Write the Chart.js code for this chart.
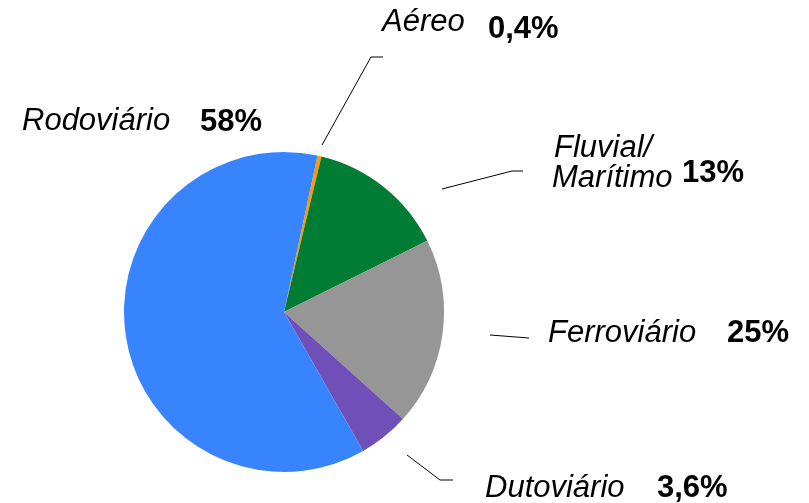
<!DOCTYPE html>
<html>
<head>
<meta charset="utf-8">
<script src="https://cdn.jsdelivr.net/npm/chart.js@4"></script>
<style>
  html, body { margin: 0; padding: 0; background: #fff; }
  #wrap { width: 809px; height: 503px; position: relative; }
</style>
</head>
<body>
<div id="wrap"><canvas id="grafik"></canvas></div>
<script>
// slice sizes as drawn in the picture (degrees converted to %)
const modais = ['Aéreo', 'Fluvial/Marítimo', 'Ferroviário', 'Dutoviário', 'Rodoviário'];
const fatias = [0.4, 13.9, 19.0, 5.1, 61.6];
// percentages printed next to each label
const rotulos = ['0,4%', '13%', '25%', '3,6%', '58%'];
const cores = ['#FF9900', '#007C34', '#969696', '#714FB9', '#3884FF'];

// where the labels sit (name lines, value, leader line)
const posicoes = [
  { nome: [['Aéreo', 382, 31]], valor: [488, 38], linha: [[322, 145], [371, 57], [383, 57]] },
  { nome: [['Fluvial/', 554, 157], ['Marítimo', 552, 187]], valor: [682, 182], linha: [[442, 189], [512, 171], [523, 171]] },
  { nome: [['Ferroviário', 548, 342]], valor: [727, 342], linha: [[490, 335], [529, 338]] },
  { nome: [['Dutoviário', 485, 497]], valor: [657, 497], linha: [[407, 455], [440, 480], [453, 480]] },
  { nome: [['Rodoviário', 22, 130]], valor: [200, 131], linha: null }
];

const rotuloPlugin = {
  id: 'rotuloPlugin',
  afterDraw(chart) {
    const ctx = chart.ctx;
    ctx.save();
    ctx.textBaseline = 'alphabetic';
    ctx.textAlign = 'left';
    ctx.fillStyle = '#000';
    posicoes.forEach((p, i) => {
      ctx.font = 'italic 31px "Liberation Sans", Arial, sans-serif';
      p.nome.forEach(([t, x, y]) => ctx.fillText(t, x, y));
      ctx.font = 'bold 31px "Liberation Sans", Arial, sans-serif';
      ctx.fillText(rotulos[i], p.valor[0], p.valor[1]);
      if (p.linha) {
        ctx.strokeStyle = '#000';
        ctx.lineWidth = 1;
        ctx.beginPath();
        p.linha.forEach(([x, y], k) => k === 0 ? ctx.moveTo(x, y) : ctx.lineTo(x, y));
        ctx.stroke();
      }
    });
    ctx.restore();
  }
};

new Chart(document.getElementById('grafik'), {
  type: 'pie',
  data: {
    labels: modais,
    datasets: [{
      data: fatias,
      backgroundColor: cores,
      borderWidth: 0
    }]
  },
  options: {
    responsive: true,
    maintainAspectRatio: false,
    animation: false,
    rotation: 12.1,
    layout: { padding: { left: 124, right: 365, top: 152, bottom: 31 } },
    plugins: {
      legend: { display: false },
      tooltip: { enabled: false }
    }
  },
  plugins: [rotuloPlugin]
});
</script>
</body>
</html>
